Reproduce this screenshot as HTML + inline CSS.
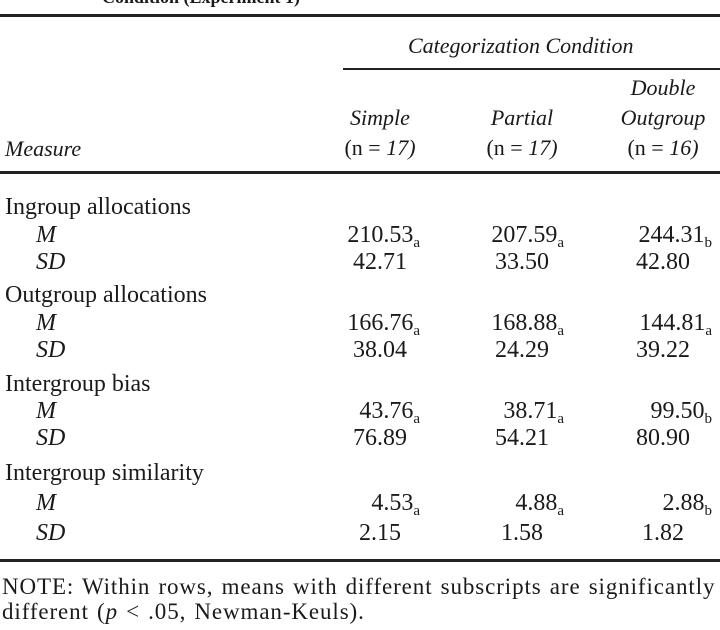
<!DOCTYPE html>
<html><head><meta charset="utf-8"><style>
body{margin:0;width:720px;height:630px;background:#fff;position:relative;overflow:hidden;font-family:"Liberation Serif",serif;color:#1a1a1a;}
div.t{position:absolute;line-height:28px;font-size:24px;white-space:nowrap;margin-top:-2px;}
.i{font-style:italic;}
.h{font-size:22px !important;}
.c{text-align:center;width:160px;}
.r{text-align:right;width:180px;}
.rule{position:absolute;left:0;width:720px;background:#222;}
sub{font-size:15px;vertical-align:-5px;line-height:0;}
</style></head><body>
<div class="t" style="left:102px;top:-15px;font-weight:bold;font-size:18px;">Condition (Experiment 1)</div>
<div class="rule" style="top:14px;height:3px;"></div>
<div class="t i h" style="left:408px;top:34px;">Categorization Condition</div>
<div class="rule" style="top:68px;left:343px;width:377px;height:2px;"></div>
<div class="t i c h" style="left:583px;top:76px;">Double</div>
<div class="t i c h" style="left:300px;top:106px;">Simple</div>
<div class="t i c h" style="left:442px;top:106px;">Partial</div>
<div class="t i c h" style="left:583px;top:106px;">Outgroup</div>
<div class="t c h" style="left:300px;top:136px;">(n = <i>17)</i></div>
<div class="t c h" style="left:442px;top:136px;">(n = <i>17)</i></div>
<div class="t c h" style="left:583px;top:136px;">(n = <i>16)</i></div>
<div class="t i h" style="left:5px;top:137px;">Measure</div>
<div class="rule" style="top:171px;height:3px;"></div>

<div class="t" style="left:5px;top:195px;">Ingroup allocations</div>
<div class="t i" style="left:36px;top:223px;">M</div>
<div class="t i" style="left:36px;top:250px;">SD</div>
<div class="t r" style="left:240px;top:223px;">210.53<sub>a</sub></div>
<div class="t r" style="left:384px;top:223px;">207.59<sub>a</sub></div>
<div class="t r" style="left:532px;top:223px;">244.31<sub>b</sub></div>
<div class="t c" style="left:300px;top:250px;">42.71</div>
<div class="t c" style="left:442px;top:250px;">33.50</div>
<div class="t c" style="left:583px;top:250px;">42.80</div>

<div class="t" style="left:5px;top:283px;">Outgroup allocations</div>
<div class="t i" style="left:36px;top:311px;">M</div>
<div class="t i" style="left:36px;top:338px;">SD</div>
<div class="t r" style="left:240px;top:311px;">166.76<sub>a</sub></div>
<div class="t r" style="left:384px;top:311px;">168.88<sub>a</sub></div>
<div class="t r" style="left:532px;top:311px;">144.81<sub>a</sub></div>
<div class="t c" style="left:300px;top:338px;">38.04</div>
<div class="t c" style="left:442px;top:338px;">24.29</div>
<div class="t c" style="left:583px;top:338px;">39.22</div>

<div class="t" style="left:5px;top:372px;">Intergroup bias</div>
<div class="t i" style="left:36px;top:399px;">M</div>
<div class="t i" style="left:36px;top:426px;">SD</div>
<div class="t r" style="left:240px;top:399px;">43.76<sub>a</sub></div>
<div class="t r" style="left:384px;top:399px;">38.71<sub>a</sub></div>
<div class="t r" style="left:532px;top:399px;">99.50<sub>b</sub></div>
<div class="t c" style="left:300px;top:426px;">76.89</div>
<div class="t c" style="left:442px;top:426px;">54.21</div>
<div class="t c" style="left:583px;top:426px;">80.90</div>

<div class="t" style="left:5px;top:461px;">Intergroup similarity</div>
<div class="t i" style="left:36px;top:491px;">M</div>
<div class="t i" style="left:36px;top:521px;">SD</div>
<div class="t r" style="left:240px;top:491px;">4.53<sub>a</sub></div>
<div class="t r" style="left:384px;top:491px;">4.88<sub>a</sub></div>
<div class="t r" style="left:532px;top:491px;">2.88<sub>b</sub></div>
<div class="t c" style="left:300px;top:521px;">2.15</div>
<div class="t c" style="left:442px;top:521px;">1.58</div>
<div class="t c" style="left:583px;top:521px;">1.82</div>

<div class="rule" style="top:559px;height:3px;"></div>
<div class="t" style="left:2px;top:575px;font-size:23px;letter-spacing:0.9px;word-spacing:1.5px;">NOTE: Within rows, means with different subscripts are significantly</div>
<div class="t" style="left:2px;top:600px;font-size:23px;letter-spacing:0.9px;word-spacing:1.5px;">different (<i>p</i> &lt; .05, Newman-Keuls).</div>
</body></html>
